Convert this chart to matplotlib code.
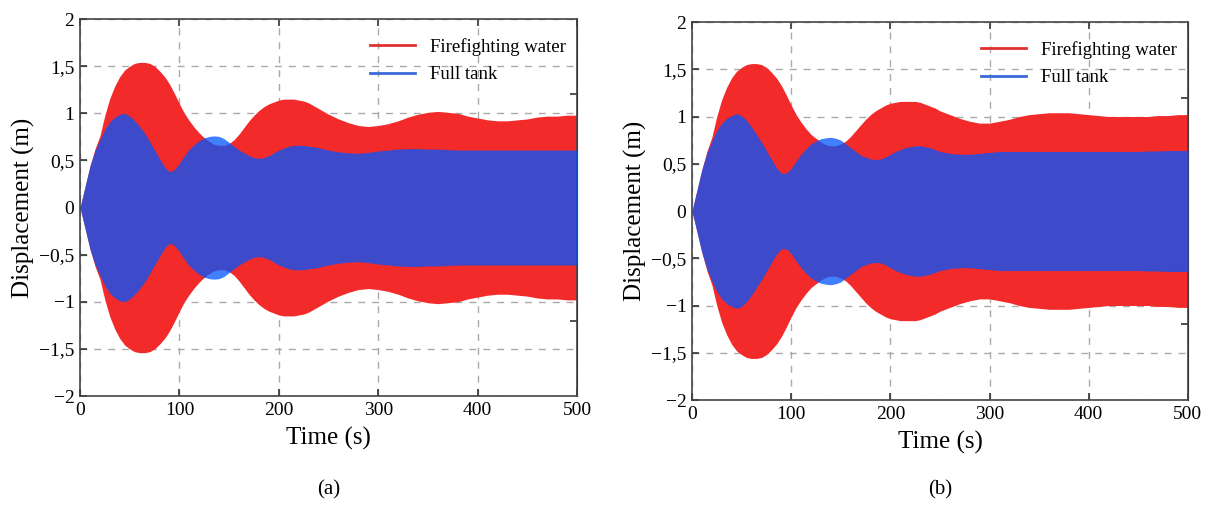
import matplotlib
matplotlib.use("Agg")
import numpy as np
import matplotlib.pyplot as plt
from matplotlib.lines import Line2D

plt.rcParams['font.family'] = ['Liberation Serif', 'DejaVu Serif']

# sample times (s) of the envelope readings
time_s = list(range(0, 255, 5)) + list(range(260, 510, 10))

# (a) envelope amplitudes (m)
red_a = [0, 0.22, 0.44, 0.62, 0.76, 0.98, 1.16, 1.29, 1.39, 1.46,
         1.50, 1.53, 1.54, 1.54, 1.53, 1.50, 1.45, 1.39, 1.31, 1.21,
         1.10, 1.00, 0.92, 0.85, 0.79, 0.74, 0.70, 0.67, 0.66, 0.66,
         0.68, 0.72, 0.78, 0.85, 0.92, 0.98, 1.03, 1.07, 1.10, 1.12,
         1.14, 1.15, 1.15, 1.15, 1.14, 1.13, 1.11, 1.08, 1.05, 1.02,
         0.99,
         0.94, 0.90, 0.87, 0.86, 0.87, 0.89, 0.92, 0.96, 0.99, 1.01,
         1.02, 1.01, 1.00, 0.97, 0.95, 0.93, 0.92, 0.92, 0.93, 0.94,
         0.96, 0.97, 0.97, 0.98, 0.98]
blue_a = [0, 0.22, 0.44, 0.60, 0.72, 0.83, 0.91, 0.96, 0.99, 1.00,
          0.97, 0.92, 0.86, 0.79, 0.70, 0.61, 0.52, 0.43, 0.38, 0.40,
          0.47, 0.55, 0.62, 0.67, 0.71, 0.74, 0.755, 0.76, 0.755, 0.73,
          0.69, 0.65, 0.61, 0.58, 0.55, 0.53, 0.52, 0.53, 0.55, 0.58,
          0.61, 0.63, 0.65, 0.66, 0.66, 0.66, 0.65, 0.645, 0.635, 0.62,
          0.61,
          0.59, 0.58, 0.575, 0.585, 0.60, 0.61, 0.62, 0.625, 0.625, 0.62,
          0.62, 0.615, 0.61, 0.61, 0.61, 0.61, 0.61, 0.61, 0.61, 0.61,
          0.61, 0.61, 0.61, 0.61, 0.61]

# (b) envelope amplitudes (m)
red_b = [0, 0.22, 0.44, 0.63, 0.78, 1.00, 1.18, 1.31, 1.41, 1.48,
         1.52, 1.55, 1.56, 1.56, 1.55, 1.52, 1.47, 1.41, 1.33, 1.23,
         1.12, 1.02, 0.94, 0.87, 0.81, 0.77, 0.73, 0.70, 0.69, 0.69,
         0.71, 0.74, 0.79, 0.85, 0.91, 0.97, 1.02, 1.06, 1.09, 1.12,
         1.14, 1.15, 1.16, 1.16, 1.16, 1.16, 1.15, 1.13, 1.11, 1.09,
         1.06,
         1.02, 0.98, 0.95, 0.93, 0.93, 0.95, 0.97, 1.00, 1.02, 1.03,
         1.04, 1.04, 1.04, 1.03, 1.02, 1.01, 1.00, 1.00, 1.00, 1.00,
         1.00, 1.01, 1.01, 1.02, 1.02]
blue_b = [0, 0.22, 0.44, 0.61, 0.74, 0.85, 0.93, 0.98, 1.01, 1.03,
          1.01, 0.96, 0.89, 0.81, 0.73, 0.64, 0.55, 0.46, 0.40, 0.40,
          0.45, 0.53, 0.60, 0.66, 0.71, 0.74, 0.765, 0.775, 0.78, 0.77,
          0.75, 0.71, 0.67, 0.63, 0.59, 0.57, 0.55, 0.545, 0.55, 0.57,
          0.60, 0.63, 0.65, 0.67, 0.68, 0.69, 0.69, 0.68, 0.67, 0.65,
          0.63,
          0.61, 0.60, 0.60, 0.61, 0.62, 0.63, 0.63, 0.63, 0.63, 0.63,
          0.63, 0.63, 0.63, 0.63, 0.63, 0.63, 0.63, 0.63, 0.63, 0.63,
          0.635, 0.635, 0.64, 0.64, 0.64]

xticks = [0, 100, 200, 300, 400, 500]
yticks = [-2, -1.5, -1, -0.5, 0, 0.5, 1, 1.5, 2]
ytick_labels = ['\u22122', '\u22121,5', '\u22121', '\u22120,5', '0', '0,5', '1', '1,5', '2']
right_ticks = [-1.2, -0.4, 0.4, 1.2]
series_names = ['Firefighting water', 'Full tank']
panel_tags = ['(a)', '(b)']

RED = '#f22a2a'
BLUE = '#0055ff'

fig = plt.figure(figsize=(12.07, 5.05), dpi=100)
ax_a = fig.add_axes([0.0663, 0.2158, 0.4118, 0.7465])
ax_b = fig.add_axes([0.5733, 0.2079, 0.4109, 0.7485])

t = np.array(time_s)
for ax, red, blue, tag in [(ax_a, red_a, blue_a, panel_tags[0]),
                           (ax_b, red_b, blue_b, panel_tags[1])]:
    red = np.array(red)
    blue = np.array(blue)
    ax.fill_between(t, -red, red, color=RED, lw=0, zorder=2)
    ax.fill_between(t, -blue, blue, color=BLUE, alpha=0.75, lw=0, zorder=3)

    ax.set_xlim(0, 500)
    ax.set_ylim(-2, 2)
    ax.set_xticks(xticks)
    ax.set_xticklabels([str(x) for x in xticks])
    ax.set_yticks(yticks)
    ax.set_yticklabels(ytick_labels)
    ax.set_axisbelow(True)
    ax.grid(True, color='#aaaaaa', linestyle=(0, (5, 5)), linewidth=1.0)
    ax.tick_params(direction='in', length=5, width=1.2, labelsize=14,
                   top=True, colors='#333333', labelcolor='black', pad=4)
    for s in ax.spines.values():
        s.set_color('#444444')
        s.set_linewidth(1.2)

    sec = ax.secondary_yaxis('right')
    sec.set_yticks(right_ticks)
    sec.set_yticklabels([])
    sec.tick_params(direction='in', length=5, width=1.2, colors='#333333')

    ax.set_xlabel('Time (s)', fontsize=18, labelpad=6)
    ax.set_ylabel('Displacement (m)', fontsize=18, labelpad=3)

    handles = [Line2D([], [], color='#e03030', lw=2),
               Line2D([], [], color='#3a6ad8', lw=2)]
    ax.legend(handles, series_names, loc='upper right', frameon=False,
              fontsize=13.5, handlelength=2.4, handletextpad=0.8,
              labelspacing=0.55, borderaxespad=0.2,
              bbox_to_anchor=(1.0, 0.98))

    pos = ax.get_position()
    fig.text(pos.x0 + pos.width / 2, 0.03, tag, ha='center', va='center', fontsize=15)

fig.savefig('out.png', dpi=100)
